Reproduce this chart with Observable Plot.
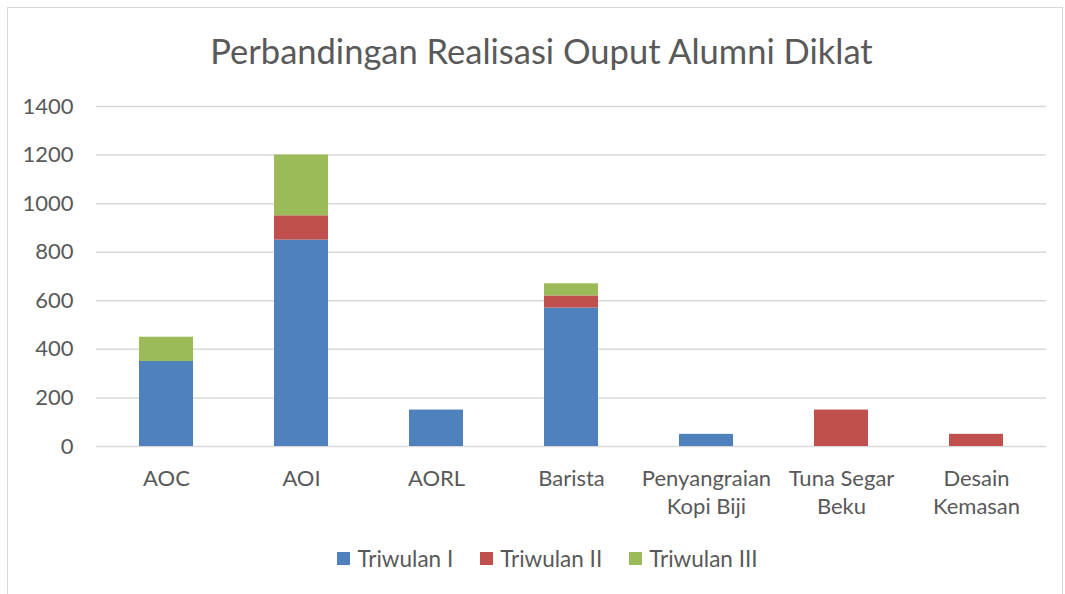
<!DOCTYPE html>
<html>
<head>
<meta charset="utf-8">
<script src="https://cdn.jsdelivr.net/npm/d3@7"></script>
<script src="https://cdn.jsdelivr.net/npm/@observablehq/plot@0.6"></script>
<style>
  body { margin: 0; background: #fff; font-family: Lato, "Open Sans", sans-serif; }
  #frame { position: absolute; left: 7px; top: 7px; width: 1054px; height: 600px; border: 1px solid #d9d9d9; }
  #title { position: absolute; left: 0; top: 30px; width: 1083px; text-align: center; font-size: 34.5px; color: #595959; }
  #chart { position: absolute; left: 0; top: 90px; }
  #legend { position: absolute; left: 15px; top: 545px; width: 1065px; display: flex; justify-content: center; gap: 27px; font-size: 22.5px; color: #595959; }
  #legend span.item { display: flex; align-items: center; gap: 7px; }
  #legend span.sw { width: 13px; height: 13px; display: inline-block; }
</style>
</head>
<body>
<div id="frame"></div>
<div id="title">Perbandingan Realisasi Ouput Alumni Diklat</div>
<div id="chart"></div>
<div id="legend"></div>
<script>
const categories = ["AOC", "AOI", "AORL", "Barista", "Penyangraian Kopi Biji", "Tuna Segar Beku", "Desain Kemasan"];
const categoryLabels = ["AOC", "AOI", "AORL", "Barista", "Penyangraian\nKopi Biji", "Tuna Segar\nBeku", "Desain\nKemasan"];
const seriesNames = ["Triwulan I", "Triwulan II", "Triwulan III"];
const triwulanI = [350, 850, 150, 570, 50, 0, 0];
const triwulanII = [0, 100, 0, 50, 0, 150, 50];
const triwulanIII = [100, 250, 0, 50, 0, 0, 0];
const colors = ["#4f81bd", "#c0504d", "#9bbb59"];
const yTicks = [0, 200, 400, 600, 800, 1000, 1200, 1400];

const seriesValues = [triwulanI, triwulanII, triwulanIII];
const data = [];
seriesNames.forEach((s, si) => {
  categories.forEach((c, ci) => {
    data.push({category: c, series: s, value: seriesValues[si][ci]});
  });
});
const labelMap = new Map(categories.map((c, i) => [c, categoryLabels[i]]));

const chart = Plot.plot({
  width: 1065,
  height: 440,
  marginTop: 16,
  marginBottom: 84,
  marginLeft: 96,
  marginRight: 19,
  style: {fontFamily: "Lato, 'Open Sans', sans-serif", fontSize: "22px", color: "#595959", background: "transparent"},
  x: {domain: categories, paddingInner: 0.6, paddingOuter: 0.3, label: null},
  y: {domain: [0, 1400], label: null},
  color: {domain: seriesNames, range: colors},
  marks: [
    Plot.gridY(yTicks, {stroke: "#d9d9d9", strokeOpacity: 1, strokeWidth: 1.5}),
    Plot.barY(data, Plot.stackY({order: seriesNames, x: "category", y: "value", fill: "series"})),
    Plot.axisY({ticks: yTicks, tickSize: 0, tickPadding: 23, tickFormat: d => String(d), fill: "#595959", fontSize: 22, label: null}),
    Plot.axisX({tickSize: 0, tickPadding: 19, tickFormat: d => labelMap.get(d), lineHeight: 1.3, fill: "#595959", fontSize: 22, label: null, textAnchor: "middle", lineAnchor: "top"})
  ]
});
document.getElementById("chart").appendChild(chart);

const legend = document.getElementById("legend");
seriesNames.forEach((s, i) => {
  const item = document.createElement("span");
  item.className = "item";
  const sw = document.createElement("span");
  sw.className = "sw";
  sw.style.background = colors[i];
  item.appendChild(sw);
  item.appendChild(document.createTextNode(s));
  legend.appendChild(item);
});
</script>
</body>
</html>
